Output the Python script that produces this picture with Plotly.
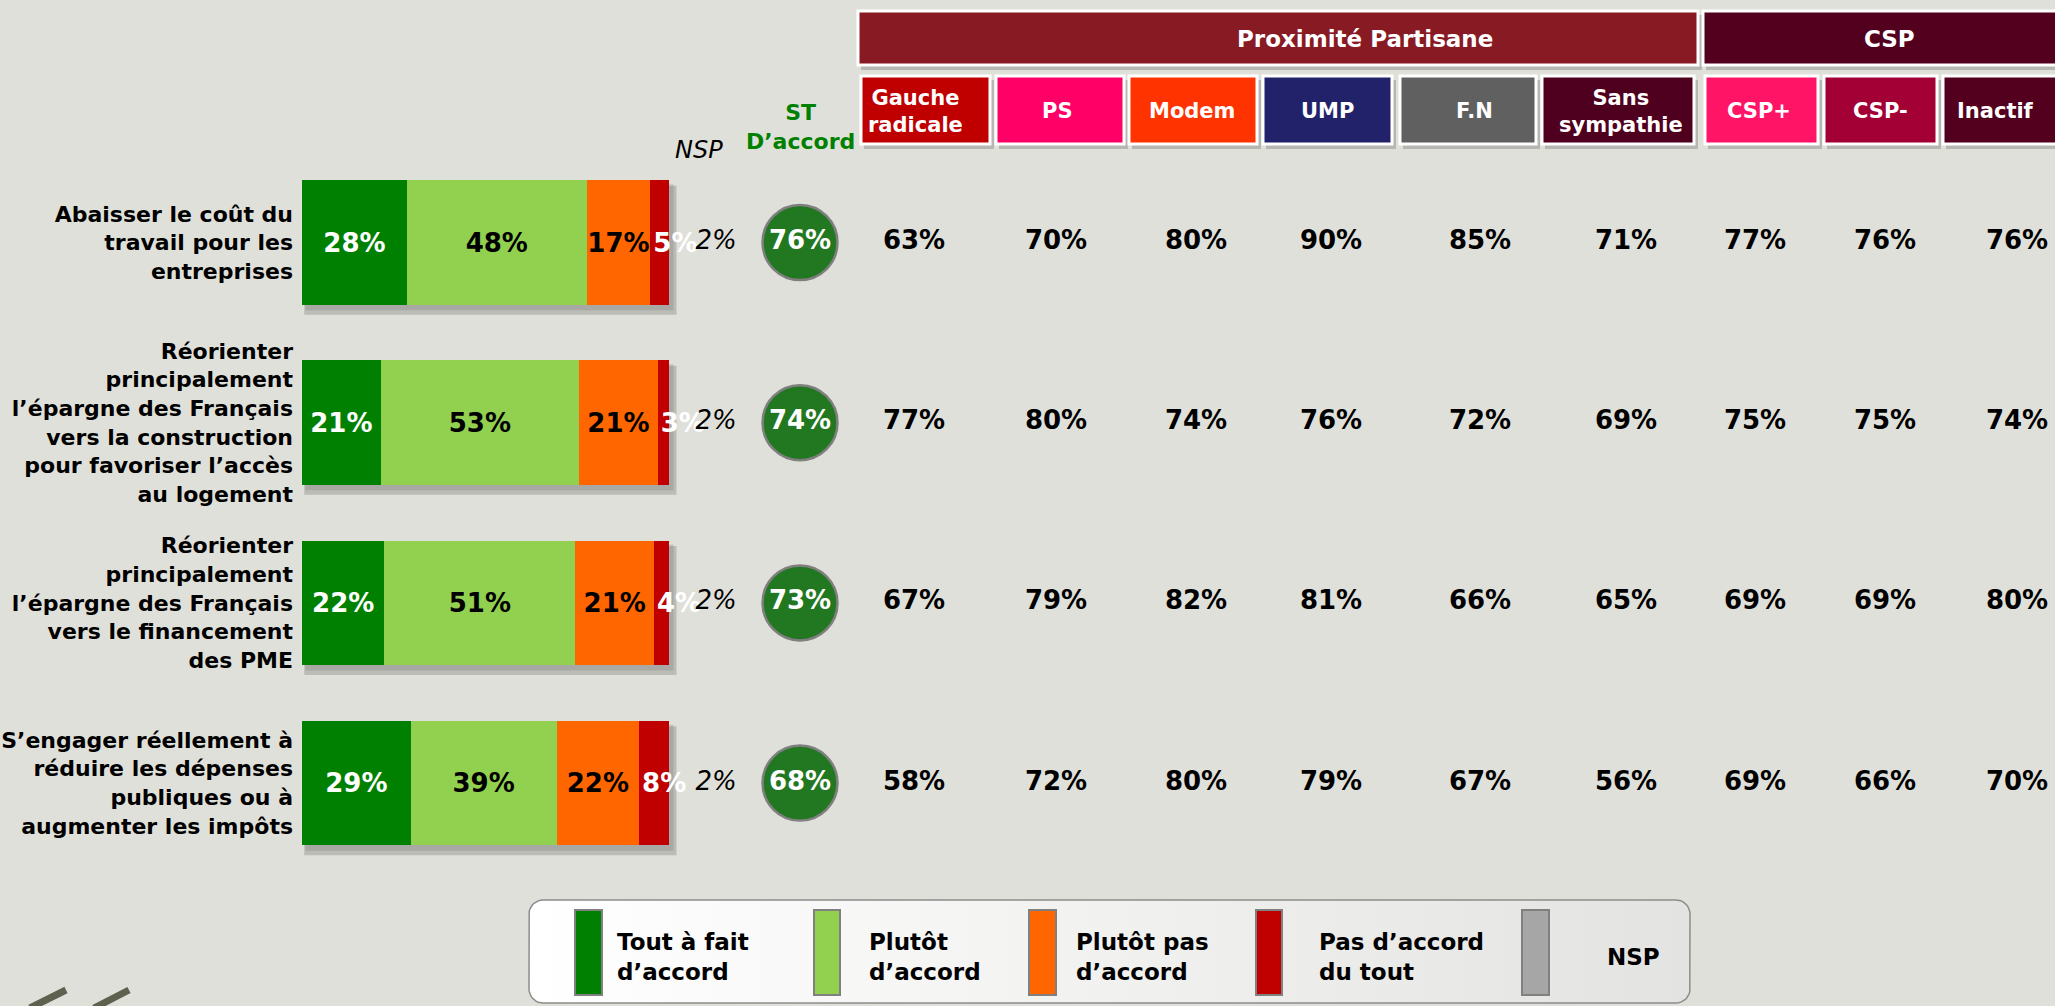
import numpy as np
import plotly.graph_objects as go

W, H = 2055, 1006

# ---------------- data ----------------
ITEMS = [
    "Abaisser le coût du<br>travail pour les<br>entreprises",
    "Réorienter<br>principalement<br>l’épargne des Français<br>vers la construction<br>pour favoriser l’accès<br>au logement",
    "Réorienter<br>principalement<br>l’épargne des Français<br>vers le financement<br>des PME",
    "S’engager réellement à<br>réduire les dépenses<br>publiques ou à<br>augmenter les impôts",
]
TOUT_A_FAIT = [28, 21, 22, 29]
PLUTOT = [48, 53, 51, 39]
PLUTOT_PAS = [17, 21, 21, 22]
PAS_DU_TOUT = [5, 3, 4, 8]
NSP = [2, 2, 2, 2]
ST_ACCORD = [76, 74, 73, 68]

GAUCHE_RADICALE = [63, 77, 67, 58]
PS = [70, 80, 79, 72]
MODEM = [80, 74, 82, 80]
UMP = [90, 76, 81, 79]
FN = [85, 72, 66, 67]
SANS_SYMPATHIE = [71, 69, 65, 56]
CSP_PLUS = [77, 75, 69, 69]
CSP_MOINS = [76, 75, 69, 66]
INACTIF = [76, 74, 80, 70]

GROUP_LABELS = ["Gauche<br>radicale", "PS", "Modem", "UMP", "F.N",
                "Sans<br>sympathie", "CSP+", "CSP-", "Inactif"]
SUPER_LABELS = ["Proximité Partisane", "CSP"]
LEGEND_LABELS = ["Tout à fait<br>d’accord", "Plutôt<br>d’accord", "Plutôt pas<br>d’accord",
                 "Pas d’accord<br>du tout", "NSP"]

# ---------------- layout / style constants ----------------
BG = "#E0E0DA"
FONT = "DejaVu Sans"
C_TOUT, C_PLUTOT, C_PAS, C_PASTOUT, C_NSP = "#008000", "#92D050", "#FF6600", "#C00000", "#A6A6A6"
CIRCLE = "#217821"

BAR_X0, BAR_X100 = 302, 676.5          # pixel of 0 % and 100 %
ROW0_Y, ROW_STEP = 242.5, 180.2        # pixel centre of first row, row pitch
BAR_W = 0.691
Y_TOP = -ROW0_Y / ROW_STEP
Y_BOT = (H - ROW0_Y) / ROW_STEP

COL_X_NSP = 716
COL_X_ST = 800
COL_X_GROUPS = [914, 1056, 1196, 1331, 1480, 1626, 1755, 1885, 2017]

SUPER_BOXES = [(858, 1698), (1703, 2060)]
SUPER_COLORS = ["#881A24", "#52001E"]
SUPER_TEXT_X = [1365, 1889]
SUB_BOXES = [(861, 990), (996, 1124), (1129, 1257), (1263, 1392), (1400, 1536),
             (1542, 1694), (1705, 1818), (1824, 1937), (1943, 2060)]
SUB_COLORS = ["#C00000", "#FF0066", "#FF3300", "#22226A", "#606060",
              "#4F001E", "#FF1466", "#A30036", "#52001E"]
SUB_TEXT_X = [915, 1057, 1192, 1327, 1474, 1621, 1759, 1880, 1995]

LEG_COLORS = [C_TOUT, C_PLUTOT, C_PAS, C_PASTOUT, C_NSP]
LEG_RECT_X = [(575, 602), (814, 840), (1029, 1056), (1256, 1282), (1522, 1549)]
LEG_TEXT_X = [615, 867, 1074, 1317, 1605]
LEG_BOX = (529, 900, 1690, 1003, 14)


def px(x):
    return x / W


def py(y):
    return 1 - y / H


def row_of(ypix):
    return (ypix - ROW0_Y) / ROW_STEP


fig = go.Figure()
rows = list(range(len(ITEMS)))

# ---------------- legend background (gradient, rounded) ----------------
x0, y0, x1, y1, r = LEG_BOX
t = np.linspace(0, np.pi / 2, 10)
corners = [
    (x1 - r, y0 + r, -np.pi / 2), (x1 - r, y1 - r, 0.0),
    (x0 + r, y1 - r, np.pi / 2), (x0 + r, y0 + r, np.pi),
]
bx, by = [], []
for cx, cy, a0 in corners:
    ang = a0 + t
    bx += list(cx + r * np.cos(ang))
    by += list(cy + r * np.sin(ang))
bx.append(bx[0])
by.append(by[0])
fig.add_trace(go.Scatter(
    x=bx, y=[row_of(v) for v in by], mode="lines", fill="toself",
    fillgradient=dict(type="horizontal", colorscale=[[0, "#FFFFFF"], [1, "#E3E3E1"]]),
    line=dict(color="#8C8C8C", width=1.5),
    hoverinfo="skip", showlegend=False, xaxis="x2", yaxis="y",
))

# ---------------- stacked bars ----------------
series = [
    (TOUT_A_FAIT, C_TOUT, "white", "middle"),
    (PLUTOT, C_PLUTOT, "black", "middle"),
    (PLUTOT_PAS, C_PAS, "black", "middle"),
    (PAS_DU_TOUT, C_PASTOUT, "white", "start"),
]
for vals, col, tcol, anchor in series:
    fig.add_trace(go.Bar(
        y=rows, x=vals, orientation="h", width=BAR_W,
        marker=dict(color=col, line=dict(width=0)),
        text=[f"{v}%" for v in vals], textposition="inside",
        insidetextanchor=anchor, textangle=0, constraintext="none",
        textfont=dict(family=FONT, size=26, color=tcol, weight="bold"),
        cliponaxis=False, hoverinfo="skip", showlegend=False,
        xaxis="x", yaxis="y",
    ))

# ---------------- NSP column ----------------
fig.add_trace(go.Scatter(
    x=[COL_X_NSP] * len(rows), y=rows, mode="text",
    text=[f"{v}%" for v in NSP],
    textfont=dict(family=FONT, size=26, color="black", style="italic"),
    cliponaxis=False, hoverinfo="skip", showlegend=False, xaxis="x2", yaxis="y",
))

# ---------------- ST d'accord circles ----------------
fig.add_trace(go.Scatter(
    x=[COL_X_ST] * len(rows), y=rows, mode="markers+text",
    marker=dict(size=75, color=CIRCLE, line=dict(color="#7F7F7F", width=2.5)),
    text=[f"{v}%" for v in ST_ACCORD], textposition="middle center",
    textfont=dict(family=FONT, size=26, color="white", weight="bold"),
    cliponaxis=False, hoverinfo="skip", showlegend=False, xaxis="x2", yaxis="y",
))

# ---------------- group columns ----------------
GROUP_SERIES = [GAUCHE_RADICALE, PS, MODEM, UMP, FN, SANS_SYMPATHIE, CSP_PLUS, CSP_MOINS, INACTIF]
for xpos, vals in zip(COL_X_GROUPS, GROUP_SERIES):
    fig.add_trace(go.Scatter(
        x=[xpos] * len(rows), y=rows, mode="text",
        text=[f"{v}%" for v in vals],
        textfont=dict(family=FONT, size=26, color="black", weight="bold"),
        cliponaxis=False, hoverinfo="skip", showlegend=False, xaxis="x2", yaxis="y",
    ))

shapes = []
annotations = []

# bar shadows
totals = [a + b + c + d for a, b, c, d in zip(TOUT_A_FAIT, PLUTOT, PLUTOT_PAS, PAS_DU_TOUT)]
for rr, tot in zip(rows, totals):
    shapes.append(dict(type="rect", xref="x", yref="y", layer="below",
                       x0=0.6, x1=tot + 2.4, y0=rr - BAR_W / 2 + 0.03, y1=rr + BAR_W / 2 + 0.055,
                       fillcolor="rgba(0,0,0,0.16)", line=dict(width=0)))
    shapes.append(dict(type="rect", xref="x", yref="y", layer="below",
                       x0=0.9, x1=tot + 1.2, y0=rr - BAR_W / 2 + 0.02, y1=rr + BAR_W / 2 + 0.03,
                       fillcolor="rgba(0,0,0,0.10)", line=dict(width=0)))


# header boxes
def box(bx0, bx1, by0, by1, color):
    shapes.append(dict(type="rect", xref="paper", yref="paper",
                       x0=px(bx0 + 3), x1=px(bx1 + 4), y0=py(by1 + 5), y1=py(by0 + 4),
                       fillcolor="rgba(0,0,0,0.18)", line=dict(width=0)))
    shapes.append(dict(type="rect", xref="paper", yref="paper",
                       x0=px(bx0), x1=px(bx1), y0=py(by1), y1=py(by0),
                       fillcolor=color, line=dict(color="white", width=3)))


for (sx0, sx1), col, lab, tx in zip(SUPER_BOXES, SUPER_COLORS, SUPER_LABELS, SUPER_TEXT_X):
    box(sx0, sx1, 11, 65, col)
    annotations.append(dict(xref="paper", yref="paper", x=px(tx), y=py(39), text=lab,
                            showarrow=False, xanchor="center", yanchor="middle",
                            font=dict(family=FONT, size=23, color="white", weight="bold")))

for (sx0, sx1), col, lab, tx in zip(SUB_BOXES, SUB_COLORS, GROUP_LABELS, SUB_TEXT_X):
    box(sx0, sx1, 76, 144, col)
    annotations.append(dict(xref="paper", yref="paper", x=px(tx), y=py(111), text=lab,
                            showarrow=False, xanchor="center", yanchor="middle",
                            font=dict(family=FONT, size=21, color="white", weight="bold")))

# column headers
annotations.append(dict(xref="paper", yref="paper", x=px(699), y=py(150), text="NSP",
                        showarrow=False, xanchor="center", yanchor="middle",
                        font=dict(family=FONT, size=24, color="black", style="italic")))
annotations.append(dict(xref="paper", yref="paper", x=px(800), y=py(127), text="ST<br>D’accord",
                        showarrow=False, xanchor="center", yanchor="middle",
                        font=dict(family=FONT, size=22, color="#008000", weight="bold")))

# legend swatches + labels
for (lx0, lx1), col, lab, tx in zip(LEG_RECT_X, LEG_COLORS, LEGEND_LABELS, LEG_TEXT_X):
    shapes.append(dict(type="rect", xref="paper", yref="paper",
                       x0=px(lx0), x1=px(lx1), y0=py(995), y1=py(910),
                       fillcolor=col, line=dict(color="#808080", width=2)))
    annotations.append(dict(xref="paper", yref="paper", x=px(tx), y=py(957), text=lab,
                            showarrow=False, xanchor="left", yanchor="middle", align="left",
                            font=dict(family=FONT, size=23, color="black", weight="bold")))

# decorative quote strokes bottom-left
for (xa, ya, xb, yb) in [(30, 1008, 66, 990), (94, 1008, 129, 990)]:
    shapes.append(dict(type="line", xref="paper", yref="paper",
                       x0=px(xa), y0=py(ya), x1=px(xb), y1=py(yb),
                       line=dict(color="#5E614E", width=7)))

fig.update_layout(
    width=W, height=H,
    margin=dict(l=0, r=0, t=0, b=0),
    paper_bgcolor=BG, plot_bgcolor="rgba(0,0,0,0)",
    barmode="stack", showlegend=False,
    xaxis=dict(domain=[px(BAR_X0), px(BAR_X100)], range=[0, 100], visible=False, fixedrange=True),
    xaxis2=dict(domain=[0, 1], range=[0, W], anchor="y", visible=False, fixedrange=True),
    yaxis=dict(domain=[0, 1], range=[Y_BOT, Y_TOP], tickvals=rows, ticktext=ITEMS,
               ticks="", showgrid=False, zeroline=False, showline=False,
               ticklabelstandoff=8, automargin=False, fixedrange=True,
               tickfont=dict(family=FONT, size=22, color="black", weight="bold")),
    shapes=shapes, annotations=annotations,
)

fig.write_html(
    "out.html",
    config={"displayModeBar": False},
    post_script="document.body.style.margin='0';document.body.style.overflow='hidden';",
)
